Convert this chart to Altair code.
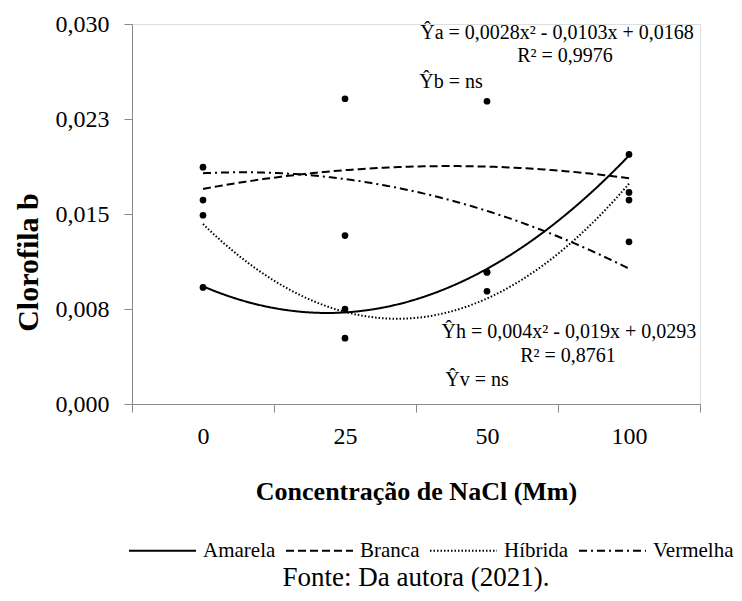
import json
import altair as alt
import numpy as np
import pandas as pd

# NaCl doses (categories on the x axis) and the chlorophyll b readings per cultivar
doses = ["0", "25", "50", "100"]
cultivares = ["Amarela", "Branca", "Híbrida", "Vermelha"]
amarela = [0.0092, 0.0075, 0.0104, 0.0197]
branca = [0.0187, 0.0133, 0.0239, 0.0161]
hibrida = [0.0149, 0.0052, 0.0104, 0.0167]
vermelha = [0.0161, 0.0241, 0.0089, 0.0128]

series = dict(zip(cultivares, [amarela, branca, hibrida, vermelha]))
pos = [1, 2, 3, 4]

rows = []
for nome, vals in series.items():
    for i, v in enumerate(vals):
        rows.append({"cultivar": nome, "idx": pos[i], "dose": doses[i], "valor": v})
df = pd.DataFrame(rows)

# second-order least-squares trend per cultivar (x = dose position 1..4)
trend_rows = []
for nome, vals in series.items():
    a, b, c = np.polyfit(pos, vals, 2)
    trend_rows.append({"cultivar": nome, "a": float(a), "b": float(b), "c": float(c)})
trend = pd.DataFrame(trend_rows)

# regression equations written on the plot
eq_text = [
    "Ŷa = 0,0028x² - 0,0103x + 0,0168",
    "R² = 0,9976",
    "Ŷb = ns",
    "Ŷh = 0,004x² - 0,019x + 0,0293",
    "R² = 0,8761",
    "Ŷv = ns",
]
eq_x = [3.493, 3.549, 2.746, 3.577, 3.570, 2.930]
eq_y = [0.02882, 0.02700, 0.02495, 0.00519, 0.00334, 0.00142]
eqs = pd.DataFrame({"txt": eq_text, "x": eq_x, "y": eq_y})

SERIF = "Liberation Serif"
AXIS_GRAY = "#898989"
dash_range = [[1, 0], [8, 4], [1.5, 2], [8, 4, 2, 4]]

x_label_expr = f"datum.value % 1 === 0 ? {json.dumps(doses)}[datum.value - 1] : ''"

x_enc = alt.X(
    "idx:Q",
    scale=alt.Scale(domain=[0.5, 4.5], nice=False, zero=False),
    axis=alt.Axis(
        title="Concentração de NaCl (Mm)",
        values=[0.5, 1, 1.5, 2, 2.5, 3, 3.5, 4, 4.5],
        labelExpr=x_label_expr,
        tickOpacity={"condition": {"test": "datum.value % 1 === 0", "value": 0}, "value": 1},
        tickSize=8,
        labelPadding=12,
        labelFontSize=24,
        labelFont=SERIF,
        labelColor="black",
        titleFont=SERIF,
        titleFontSize=26,
        titleFontWeight="bold",
        titleColor="black",
        titlePadding=30,
        domainColor=AXIS_GRAY,
        tickColor=AXIS_GRAY,
        grid=False,
        labelOverlap=False,
    ),
)

y_enc = alt.Y(
    "valor:Q",
    scale=alt.Scale(domain=[0, 0.03], nice=False, zero=True),
    axis=alt.Axis(
        title="Clorofila b",
        values=[0, 0.0075, 0.015, 0.0225, 0.03],
        labelExpr="replace(format(datum.value + 1e-9, '.3f'), '.', ',')",
        tickSize=8,
        labelPadding=15,
        labelFontSize=24,
        labelFont=SERIF,
        labelColor="black",
        titleFont=SERIF,
        titleFontSize=30,
        titleFontWeight="bold",
        titleColor="black",
        titleX=-104,
        titleY=238,
        titleAlign="center",
        titleBaseline="middle",
        domainColor=AXIS_GRAY,
        tickColor=AXIS_GRAY,
        grid=False,
    ),
)

# trend curves sampled along x = 1..4 and evaluated by Vega expressions
curves = (
    alt.Chart(trend)
    .transform_calculate(idx="sequence(1, 4.0001, 0.025)")
    .transform_flatten(["idx"])
    .transform_calculate(valor="datum.a * datum.idx * datum.idx + datum.b * datum.idx + datum.c")
    .mark_line(color="black", strokeWidth=2)
    .encode(
        x=x_enc,
        y=y_enc,
        order="idx:Q",
        strokeDash=alt.StrokeDash(
            "cultivar:N",
            scale=alt.Scale(domain=cultivares, range=dash_range),
            legend=alt.Legend(
                title=None,
                orient="none",
                legendX=-4,
                legendY=492,
                direction="horizontal",
                symbolType="stroke",
                symbolSize=4489,
                symbolStrokeWidth=2,
                symbolStrokeColor="black",
                labelFont=SERIF,
                labelFontSize=21,
                labelColor="black",
                labelOffset=6,
                columnPadding=6,
                padding=0,
            ),
        ),
    )
)

points = alt.Chart(df).mark_circle(color="black", opacity=1, size=45).encode(x=x_enc, y=y_enc)

labels = alt.Chart(eqs).mark_text(
    font=SERIF, fontSize=20, color="black", align="center", baseline="alphabetic"
).encode(x="x:Q", y="y:Q", text="txt:N")

chart = (
    alt.layer(curves, points, labels)
    .properties(
        width=568,
        height=380,
        padding={"left": 132, "top": 24, "right": 42, "bottom": 197},
        autosize=alt.AutoSizeParams(type="none"),
        title=alt.TitleParams(
            "Fonte: Da autora (2021).",
            orient="bottom",
            anchor="middle",
            font=SERIF,
            fontSize=27,
            fontWeight="normal",
            color="black",
            offset=4,
        ),
    )
    .configure_view(stroke=None)
    .configure(background="white")
)

chart.save("out.html", embed_options={"renderer": "svg", "actions": False})
